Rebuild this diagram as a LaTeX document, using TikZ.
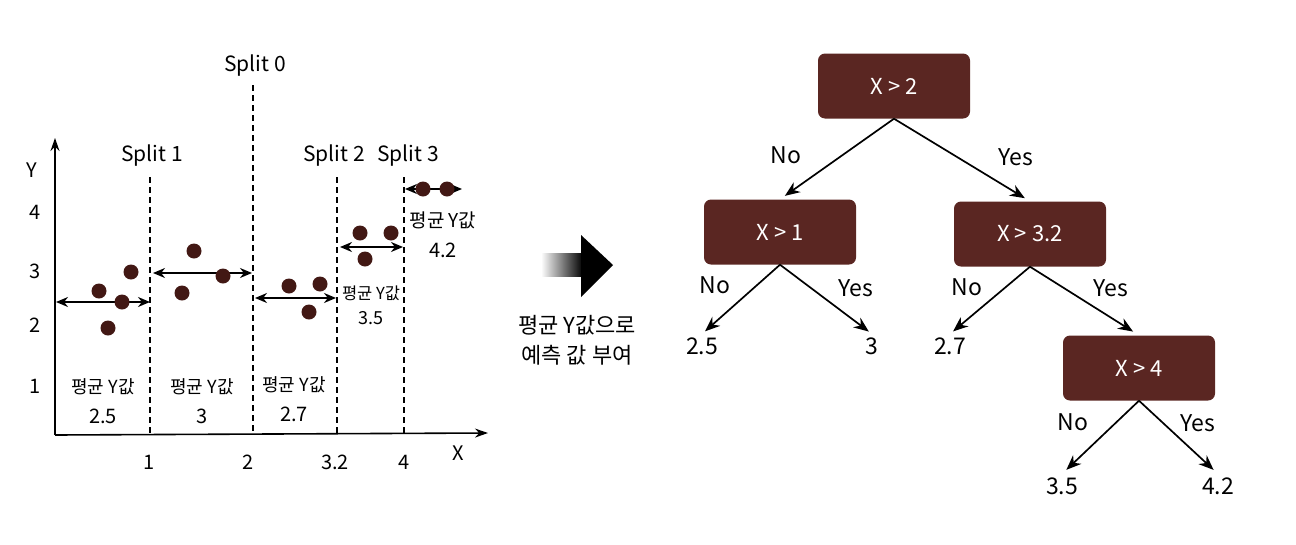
\documentclass[tikz,border=0pt]{standalone}
\usepackage{fontspec}
\setmainfont{Noto Sans CJK KR}
\usetikzlibrary{arrows.meta}

\definecolor{treebrown}{RGB}{90,38,34}
\definecolor{dotbrown}{RGB}{66,24,20}
\newcommand{\pxfont}[1]{\fontsize{#1}{#1}\selectfont}

\begin{document}
\begin{tikzpicture}[x=1pt, y=-1pt,
  axisarr/.style={-{Stealth[length=13pt, width=9pt]}, line width=1.6pt},
  split/.style={line width=1.6pt, dash pattern=on 6pt off 4pt},
  meanarr/.style={{Stealth[length=12pt, width=10pt]}-{Stealth[length=12pt, width=10pt]}, line width=1.8pt},
  datadot/.style={fill=dotbrown},
  lbl/.style={font=\pxfont{20}},
  kor/.style={font=\pxfont{18}},
  testbox/.style={rectangle, rounded corners=7pt, fill=treebrown, text=white,
    minimum width=152pt, minimum height=65pt, font=\pxfont{22}},
  leaf/.style={font=\pxfont{23}},
  answer/.style={font=\pxfont{23}},
  branch/.style={-{Stealth[length=15pt, width=12pt]}, line width=1.7pt}]
  \useasboundingbox (0,0) rectangle (1296,544);

  % axes
  \draw[axisarr] (55,435) -- (55,138);
  \draw[axisarr] (55,435) -- (488,433);
  \node[lbl] (ylab) at (32,170) {Y};
  \node[lbl] (xlab) at (458,453) {X};
  \foreach \v/\y in {4/212, 3/271, 2/325, 1/386}
    \node[lbl] (ytick\v) at (35,\y) {\v};
  \foreach \v/\x in {1/149, 2/248, 3.2/335, 4/404}
    \node[lbl] (xtick\v) at (\x,462) {\v};

  % split lines
  \draw[split] (253,85) -- (253,434);
  \draw[split] (150,177) -- (150,434);
  \draw[split] (337,177) -- (337,434);
  \draw[split] (404,177) -- (404,434);
  \node[font=\pxfont{21}] (s0) at (255,66) {Split 0};
  \node[font=\pxfont{21}] (s1) at (152,156) {Split 1};
  \node[font=\pxfont{21}] (s2) at (334,156) {Split 2};
  \node[font=\pxfont{21}] (s3) at (408,156) {Split 3};

  % mean ranges
  \draw[meanarr] (56,302) -- (150,302);
  \draw[meanarr] (153,273) -- (252,273);
  \draw[meanarr] (255,298) -- (336,298);
  \draw[meanarr] (340,247) -- (403,247);
  \draw[meanarr] (405,189) -- (462,189);

  % data points
  \foreach \x/\y in {99/291, 131/272, 122/302, 108/328,
                     194/251, 182/293, 223/276,
                     289/286, 320/284, 309/312,
                     360/233, 391/233, 365/259,
                     423/189, 447/189}
    \fill[datadot] (\x,\y) circle (7.5);

  % mean values
  \node[kor] (m1) at (103,387) {평균 Y값};
  \node[lbl] (v1) at (103,416) {2.5};
  \node[kor] (m2) at (202,387) {평균 Y값};
  \node[lbl] (v2) at (202,416) {3};
  \node[kor] (m3) at (294,385) {평균 Y값};
  \node[lbl] (v3) at (294,414) {2.7};
  \node[font=\pxfont{16.5}] (m4) at (371,293) {평균 Y값};
  \node[font=\pxfont{18}] (v4) at (371,318) {3.5};
  \node[font=\pxfont{19}] (m5) at (443,220) {평균 Y값};
  \node[lbl] (v5) at (443,250) {4.2};

  % big arrow
  \shade[left color=white, right color=black] (541,253) rectangle (583,276);
  \fill[black] (581,235) -- (613,265) -- (581,297) -- cycle;
  \node[font=\pxfont{22}] (say1) at (577,325) {평균 Y값으로};
  \node[font=\pxfont{22}] (say2) at (577,355) {예측 값 부여};

  % tree
  \node[testbox] (root) at (894,86) {X > 2};
  \node[testbox] (nl) at (780,232) {X > 1};
  \node[testbox] (nr) at (1030,234) {X > 3.2};
  \node[testbox] (nrr) at (1139,368) {X > 4};
  \node[leaf] (l25) at (702,346) {2.5};
  \node[leaf] (l3) at (872,346) {3};
  \node[leaf] (l27) at (950,346) {2.7};
  \node[leaf] (l35) at (1062,486) {3.5};
  \node[leaf] (l42) at (1218,486) {4.2};

  \draw[branch, shorten >=6pt] (root.south) -- (nl.north);
  \draw[branch, shorten >=6pt] (root.south) -- (nr.north);
  \draw[branch, shorten >=4pt] (nl.south) -- (l25.north);
  \draw[branch, shorten >=4pt] (nl.south) -- (l3.north);
  \draw[branch, shorten >=4pt] (nr.south) -- (l27.north);
  \draw[branch, shorten >=7pt] (nr.south) -- (nrr.north);
  \draw[branch, shorten >=6pt] (nrr.south) -- (l35.north);
  \draw[branch, shorten >=6pt] (nrr.south) -- (l42.north);

  \node[answer] (a1) at (786,155) {No};
  \node[answer] (a2) at (1016,157) {Yes};
  \node[answer] (a3) at (715,285) {No};
  \node[answer] (a4) at (856,288) {Yes};
  \node[answer] (a5) at (967,287) {No};
  \node[answer] (a6) at (1111,288) {Yes};
  \node[answer] (a7) at (1073,422) {No};
  \node[answer] (a8) at (1198,423) {Yes};
\end{tikzpicture}
\end{document}
